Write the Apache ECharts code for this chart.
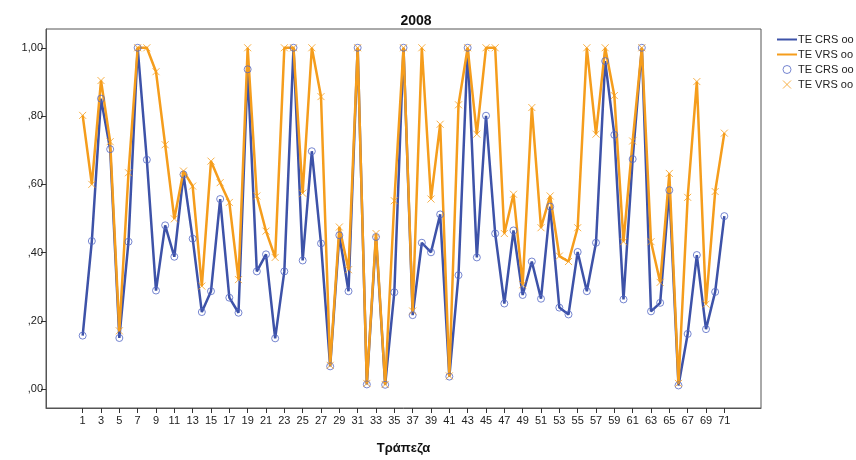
<!DOCTYPE html>
<html>
<head>
<meta charset="utf-8">
<title>2008</title>
<script src="https://cdn.jsdelivr.net/npm/echarts@6.0.0/dist/echarts.min.js"></script>
<style>
	html, body { margin: 0; padding: 0; background: #fff; }
	#main { width: 856px; height: 460px; }
</style>
</head>
<body>
<div id="main"></div>
<script>
// banks 1..71
var banks = [];
for (var b = 1; b <= 71; b++) banks.push(b);

// TE CRS oo
var teCrs = [
	0.157, 0.434, 0.851, 0.703, 0.150, 0.432, 1.000, 0.672, 0.289, 0.480,
	0.388, 0.629, 0.441, 0.226, 0.287, 0.557, 0.268, 0.224, 0.937, 0.345,
	0.395, 0.149, 0.345, 1.000, 0.377, 0.697, 0.427, 0.067, 0.451, 0.287,
	1.000, 0.014, 0.446, 0.013, 0.284, 1.000, 0.217, 0.429, 0.401, 0.512,
	0.037, 0.334, 1.000, 0.386, 0.801, 0.456, 0.251, 0.465, 0.276, 0.374,
	0.265, 0.535, 0.239, 0.219, 0.402, 0.287, 0.429, 0.961, 0.745, 0.263,
	0.674, 1.000, 0.228, 0.253, 0.583, 0.011, 0.162, 0.393, 0.176, 0.285,
	0.507
];

// TE VRS oo
var teVrs = [
	0.802, 0.600, 0.904, 0.725, 0.171, 0.634, 1.000, 1.000, 0.930, 0.716,
	0.499, 0.639, 0.595, 0.302, 0.668, 0.605, 0.547, 0.321, 1.000, 0.566,
	0.463, 0.386, 1.000, 1.000, 0.574, 1.000, 0.857, 0.070, 0.475, 0.350,
	1.000, 0.017, 0.456, 0.014, 0.552, 1.000, 0.229, 1.000, 0.557, 0.776,
	0.039, 0.833, 1.000, 0.747, 1.000, 1.000, 0.456, 0.571, 0.306, 0.825,
	0.473, 0.566, 0.390, 0.374, 0.473, 1.000, 0.747, 1.000, 0.860, 0.432,
	0.727, 1.000, 0.432, 0.313, 0.632, 0.017, 0.562, 0.901, 0.249, 0.579,
	0.750
];

var xTicks = [];
for (var t = 1; t <= 71; t += 2) xTicks.push(t);
var yTicks = [0, 0.2, 0.4, 0.6, 0.8, 1.0];

var blue = '#3d52a8', orange = '#f59d1c', ring = '#5468c4';
var xPath = 'path://M0,0L10,10M10,0L0,10';

function pairs(vals) {
	return vals.map(function(v, i) { return [banks[i], v]; });
}

// ,80 / 1,00 style labels
function fmtY(v) {
	var s = v.toFixed(2).replace('.', ',');
	if (s.charAt(0) === '0') s = s.substring(1);
	return s;
}

var chart = echarts.init(document.getElementById('main'));
var font = 'Liberation Sans, Arial, sans-serif';
var bar = 'path://M0,3.5L20,3.5L20,5.5L0,5.5Z';

var option = {
	animation: false,
	title: {
		text: '2008',
		left: 411,
		textAlign: 'center',
		top: 9,
		textStyle: { fontFamily: font, fontSize: 14, fontWeight: 'bold', color: '#111' }
	},
	legend: {
		orient: 'vertical',
		left: 772,
		top: 29,
		itemWidth: 20,
		itemHeight: 8,
		itemGap: 4,
		textStyle: { fontFamily: font, fontSize: 11, color: '#222', padding: [0, 0, 0, -4] },
		formatter: function(name) { return name.trim(); },
		data: [
			{ name: 'TE CRS oo', icon: bar },
			{ name: 'TE VRS oo', icon: bar },
			{ name: 'TE CRS oo ', icon: 'circle',
				itemStyle: { color: 'rgba(0,0,0,0)', borderColor: ring, borderWidth: 1 } },
			{ name: 'TE VRS oo ', icon: xPath,
				itemStyle: { color: 'rgba(0,0,0,0)', borderColor: orange, borderWidth: 1 } }
		]
	},
	grid: {
		left: 46, top: 29, right: 95, bottom: 47,
		show: true, borderColor: '#555', borderWidth: 1
	},
	xAxis: {
		type: 'value',
		min: -3, max: 75,
		name: 'Τράπεζα',
		nameLocation: 'middle',
		nameGap: 34,
		nameTextStyle: { fontFamily: font, fontSize: 13, fontWeight: 'bold', color: '#111' },
		axisLine: { onZero: false, lineStyle: { color: '#555' } },
		axisTick: { customValues: xTicks, length: 5, lineStyle: { color: '#333' } },
		axisLabel: { customValues: xTicks, fontFamily: font, fontSize: 11, color: '#222', margin: 7 },
		splitLine: { show: false }
	},
	yAxis: {
		type: 'value',
		min: -0.055, max: 1.055,
		axisLine: { show: true, onZero: false, lineStyle: { color: '#555' } },
		axisTick: { show: true, customValues: yTicks, length: 5, lineStyle: { color: '#333' } },
		axisLabel: { customValues: yTicks, formatter: fmtY, fontFamily: font, fontSize: 11, color: '#222', margin: 3 },
		splitLine: { show: false }
	},
	series: [
		{
			name: 'TE CRS oo', type: 'line', data: pairs(teCrs),
			showSymbol: false, color: blue,
			lineStyle: { color: blue, width: 2.5 }, z: 2
		},
		{
			name: 'TE VRS oo', type: 'line', data: pairs(teVrs),
			showSymbol: false, color: orange,
			lineStyle: { color: orange, width: 2.5 }, z: 3
		},
		{ //circle markers
			name: 'TE CRS oo ', type: 'scatter', data: pairs(teCrs),
			symbol: 'circle', symbolSize: 7,
			itemStyle: { color: 'rgba(0,0,0,0)', borderColor: ring, borderWidth: 1 }, z: 4
		},
		{ //x markers
			name: 'TE VRS oo ', type: 'scatter', data: pairs(teVrs),
			symbol: xPath, symbolSize: 7,
			itemStyle: { color: 'rgba(0,0,0,0)', borderColor: orange, borderWidth: 1 }, z: 5
		}
	]
};
chart.setOption(option);
</script>
</body>
</html>
